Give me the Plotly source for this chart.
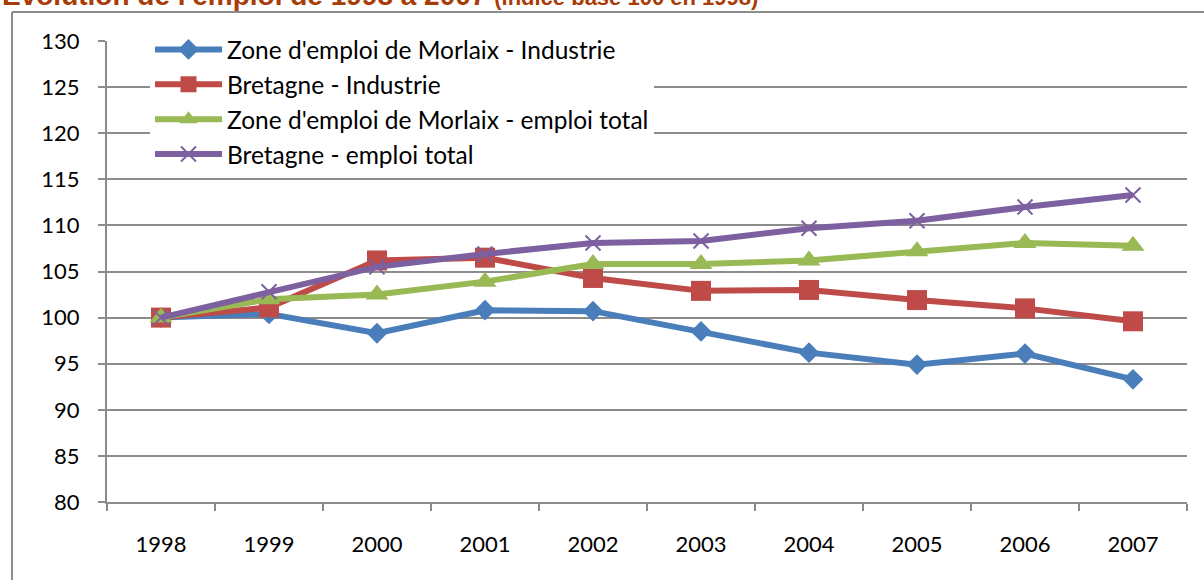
import plotly.graph_objects as go

years = ["1998", "1999", "2000", "2001", "2002", "2003", "2004", "2005", "2006", "2007"]
morlaix_industrie = [100, 100.4, 98.3, 100.8, 100.7, 98.5, 96.2, 94.9, 96.1, 93.3]
bretagne_industrie = [100, 101.1, 106.2, 106.5, 104.3, 102.9, 103.0, 101.9, 101.0, 99.6]
morlaix_total = [100, 102.0, 102.5, 103.9, 105.8, 105.8, 106.2, 107.2, 108.1, 107.8]
bretagne_total = [100, 102.8, 105.5, 106.9, 108.1, 108.3, 109.7, 110.5, 112.0, 113.3]

names = [
    "Zone d'emploi de Morlaix - Industrie",
    "Bretagne - Industrie",
    "Zone d'emploi de Morlaix - emploi total",
    "Bretagne - emploi total",
]
colors = ["#4A7EBB", "#BE4B48", "#98B954", "#7D60A0"]
symbols = ["diamond", "square", "triangle-up", "x-thin"]
sizes = [16, 20, 20, 15]
series = [morlaix_industrie, bretagne_industrie, morlaix_total, bretagne_total]

fig = go.Figure()
for name, vals, col, sym, sz in zip(names, series, colors, symbols, sizes):
    marker = dict(symbol=sym, size=sz, color=col)
    if sym == "x-thin":
        marker["line"] = dict(color=col, width=2)
    fig.add_trace(go.Scatter(
        x=years, y=vals, name=name, mode="lines+markers",
        line=dict(color=col, width=6), marker=marker,
    ))

L, R, T, B = 107, 17, 41, 78
W, H = 1204, 580
pw, ph = W - L - R, H - T - B

def px_x(px):
    return (px - L) / pw

def px_y(py):
    return (H - B - py) / ph

fig.update_layout(
    width=W, height=H,
    margin=dict(l=L, r=R, t=T, b=B),
    paper_bgcolor="white", plot_bgcolor="white",
    font=dict(family="Lato", size=22, color="black"),
    showlegend=True,
    legend=dict(
        x=px_x(150), y=px_y(27), xanchor="left", yanchor="top",
        bgcolor="white", font=dict(family="Lato", size=24.5, color="black"),
        itemwidth=67, tracegroupgap=0,
    ),
    xaxis=dict(
        type="category", range=[-0.5, 9.5],
        showgrid=False, showline=True, linecolor="#8C8C8C", linewidth=2,
        ticks="outside", tickson="boundaries", ticklen=7, tickcolor="#8C8C8C", tickwidth=2,
        ticklabelstandoff=22, tickfont=dict(family="Lato", size=22),
        fixedrange=True,
    ),
    yaxis=dict(
        range=[80, 130], dtick=5, tick0=80,
        showgrid=True, gridcolor="#8C8C8C", gridwidth=1.5,
        showline=True, linecolor="#8C8C8C", linewidth=2,
        ticks="outside", ticklen=7, tickcolor="#8C8C8C", tickwidth=2,
        ticklabelstandoff=14, tickfont=dict(family="Lato", size=22),
        zeroline=False, fixedrange=True,
    ),
    shapes=[
        dict(type="line", xref="paper", yref="paper",
             x0=px_x(12), x1=px_x(1210), y0=px_y(12), y1=px_y(12),
             line=dict(color="#8C8C8C", width=2)),
        dict(type="line", xref="paper", yref="paper",
             x0=px_x(12), x1=px_x(12), y0=px_y(12), y1=px_y(590),
             line=dict(color="#8C8C8C", width=2)),
    ],
    annotations=[
        dict(xref="paper", yref="paper", x=px_x(0), y=px_y(-5),
             xanchor="left", yanchor="middle", showarrow=False,
             text="<b>Evolution de l'emploi de 1998 à 2007</b> "
                  "<b><span style='font-size:22px'>(indice base 100 en 1998)</span></b>",
             font=dict(family="Liberation Sans", size=28, color="#A83C08")),
    ],
)

fig.write_html("out.html", config={"displayModeBar": False},
               post_script="document.body.style.margin='0';")
